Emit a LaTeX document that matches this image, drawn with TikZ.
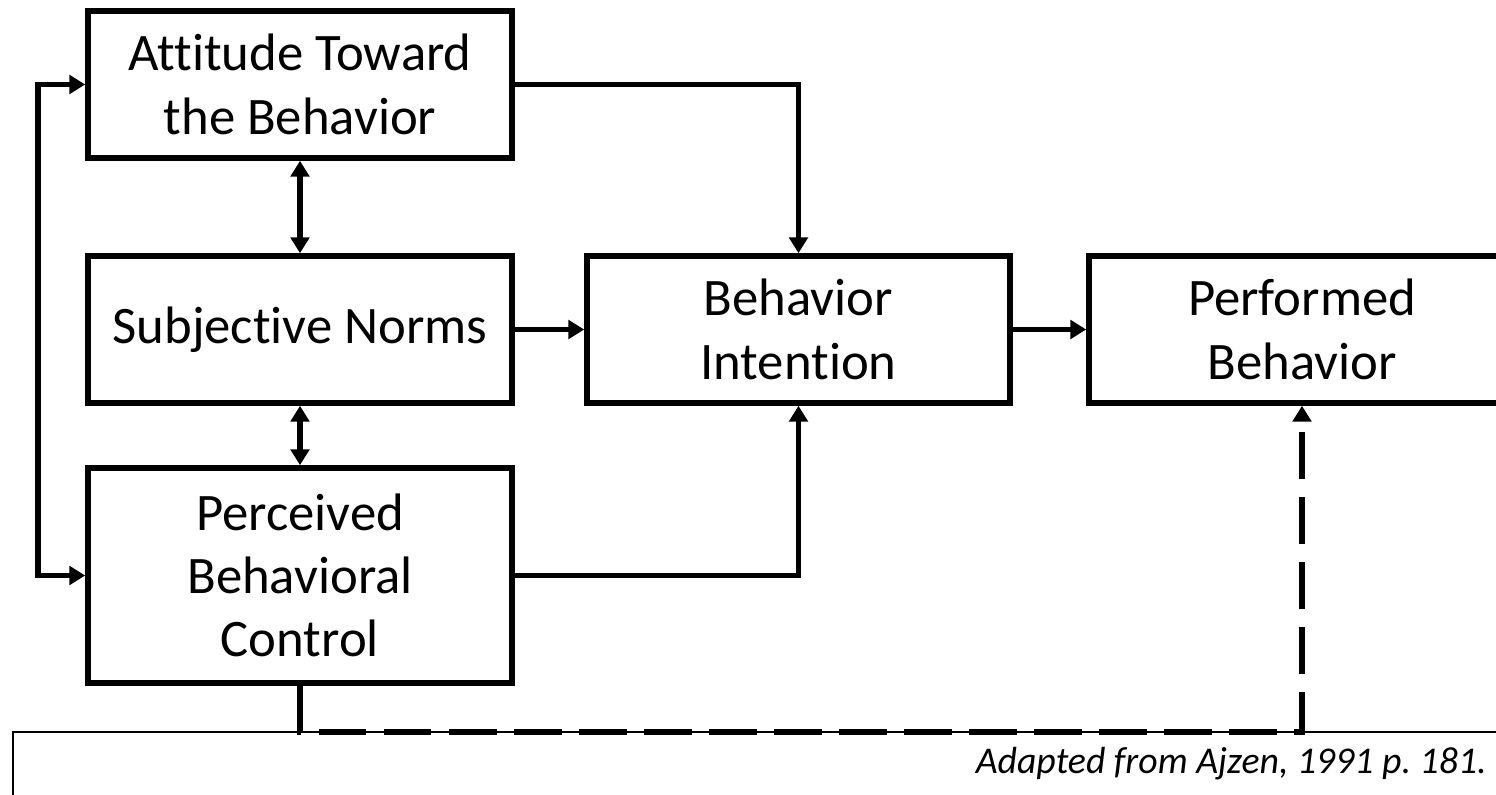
\documentclass[tikz,border=0pt]{standalone}
\usepackage{fontspec}
\setmainfont{Carlito}[Ligatures=NoCommon]
\usetikzlibrary{arrows.meta}
\frenchspacing

\begin{document}
\begin{tikzpicture}[
  >={Triangle[length=9pt,width=10.5pt]},
  block/.style={draw, line width=3.2pt, minimum width=8.48cm, minimum height=2.94cm,
    align=center, inner sep=0pt, font=\fontsize{30}{36}\selectfont},
  conn/.style={line width=3.1pt}
]
  \clip (0,0) rectangle (29.92,-15.9);

  \node[block] (att) at (6.0,-1.69) {Attitude Toward\\the Behavior};
  \node[block] (sn) at (6.0,-6.59) {Subjective Norms};
  \node[block, minimum height=4.3cm] (pbc) at (6.0,-11.51) {Perceived\\Behavioral\\Control};
  \node[block, minimum width=8.46cm] (bi) at (15.97,-6.59) {Behavior\\Intention};
  \node[block, minimum width=8.52cm] (pb) at (26.04,-6.59) {Performed\\Behavior};

  \draw[conn,<->] (att.south) -- (sn.north);
  \draw[conn,<->] (sn.south) -- (pbc.north);
  \draw[conn,<->] (att.west) -- ++(-0.94,0) |- (pbc.west);

  \draw[conn,->] (att.east) -| (bi.north);
  \draw[conn,->] (sn.east) -- (bi.west);
  \draw[conn,->] (pbc.east) -| (bi.south);
  \draw[conn,->] (bi.east) -- (pb.west);

  \draw[conn,->,dash pattern=on 27pt off 10pt] (pbc.south) -- ++(0,-0.92) -| (pb.south);

  % caption box
  \draw[line width=1.1pt] (0.26,-17) -- (0.26,-14.64) -- (31,-14.64);
  \node[anchor=base east, inner sep=0pt, font=\fontsize{21.5}{25}\selectfont\itshape]
    (src) at (29.74,-15.46) {Adapted from Ajzen, 1991 p. 181.};
\end{tikzpicture}
\end{document}
